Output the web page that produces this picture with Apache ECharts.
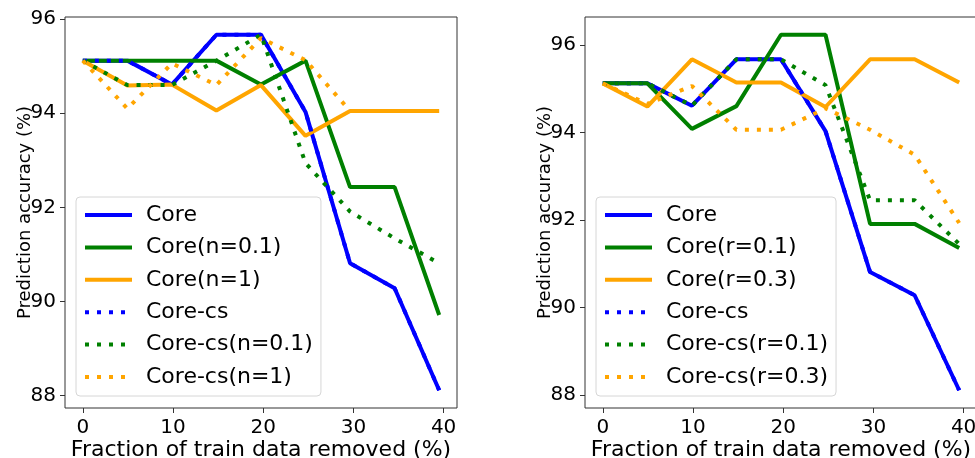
<!DOCTYPE html>
<html>
<head>
<meta charset="utf-8">
<script src="https://cdn.jsdelivr.net/npm/echarts@6/dist/echarts.min.js"></script>
<style>
  html, body { margin: 0; padding: 0; background: #fff; }
  #chart { width: 975px; height: 458px; }
</style>
</head>
<body>
<div id="chart"></div>
<script>
// fraction of train data removed (%)
const xPct = [0, 4.94, 9.88, 14.81, 19.75, 24.69, 29.63, 34.57, 39.51];
const xTicks = [0, 10, 20, 30, 40];
const yTicks = [88, 90, 92, 94, 96];

// left panel
const leftNames = ['Core', 'Core(n=0.1)', 'Core(n=1)', 'Core-cs', 'Core-cs(n=0.1)', 'Core-cs(n=1)'];
const leftCore = [95.12, 95.12, 94.61, 95.67, 95.67, 94.03, 90.81, 90.28, 88.11];
const leftCoreN01 = [95.12, 95.12, 95.12, 95.12, 94.61, 95.12, 92.43, 92.43, 89.71];
const leftCoreN1 = [95.12, 94.59, 94.61, 94.06, 94.60, 93.52, 94.05, 94.05, 94.05];
const leftCs = [95.12, 95.12, 94.61, 95.67, 95.67, 94.03, 90.81, 90.28, 88.11];
const leftCsN01 = [95.12, 94.60, 94.60, 95.12, 95.67, 92.94, 91.91, 91.34, 90.81];
const leftCsN1 = [95.12, 94.10, 95.06, 94.60, 95.60, 95.13, 94.05, 94.05, 94.05];

// right panel
const rightNames = ['Core', 'Core(r=0.1)', 'Core(r=0.3)', 'Core-cs', 'Core-cs(r=0.1)', 'Core-cs(r=0.3)'];
const rightCore = [95.12, 95.12, 94.61, 95.67, 95.67, 94.03, 90.81, 90.28, 88.11];
const rightCoreR01 = [95.12, 95.12, 94.08, 94.60, 96.23, 96.23, 91.91, 91.91, 91.36];
const rightCoreR03 = [95.12, 94.59, 95.67, 95.14, 95.14, 94.58, 95.67, 95.67, 95.14];
const rightCs = [95.12, 95.12, 94.61, 95.67, 95.67, 94.03, 90.81, 90.28, 88.11];
const rightCsR01 = [95.12, 95.12, 94.61, 95.67, 95.67, 95.08, 92.45, 92.45, 91.45];
const rightCsR03 = [95.12, 94.65, 95.06, 94.06, 94.06, 94.55, 94.06, 93.49, 91.93];

const colors = ['#0000ff', '#008000', '#ffa500'];
const FONT = 'DejaVu Sans';
const DOT = [4, 8];

function pairs(ys) {
    return ys.map((y, i) => [xPct[i], y]);
}

// matplotlib style 5% margins
function lo(v) { return v.min - (v.max - v.min) * 0.05; }
function hi(v) { return v.max + (v.max - v.min) * 0.05; }

function makeSeries(idx, names, lists) {
    return lists.map((ys, i) => ({
        name: names[i],
        type: 'line',
        xAxisIndex: idx,
        yAxisIndex: idx,
        data: pairs(ys),
        symbol: 'none',
        silent: true,
        animation: false,
        itemStyle: {color: colors[i % 3]},
        lineStyle: {
            color: colors[i % 3],
            width: 4,
            type: i < 3 ? 'solid' : DOT,
            cap: 'butt'
        }
    }));
}

function xAxis(idx) {
    return {
        type: 'value',
        gridIndex: idx,
        min: lo, max: hi,
        name: 'Fraction of train data removed (%)',
        nameLocation: 'middle',
        nameGap: 31,
        nameMoveOverlap: false,
        nameTextStyle: {fontSize: 22, color: '#000', fontFamily: FONT},
        axisLine: {show: false, onZero: false},
        splitLine: {show: false},
        axisTick: {show: true, length: 5, customValues: xTicks, lineStyle: {color: '#333'}},
        axisLabel: {fontSize: 20, color: '#000', fontFamily: FONT, margin: 10, customValues: xTicks}
    };
}

function yAxis(idx) {
    return {
        type: 'value',
        gridIndex: idx,
        min: lo, max: hi,
        name: 'Prediction accuracy (%)',
        nameLocation: 'middle',
        nameGap: 31,
        nameMoveOverlap: false,
        nameTextStyle: {fontSize: 18, color: '#000', fontFamily: FONT},
        axisLine: {show: false, onZero: false},
        splitLine: {show: false},
        axisTick: {show: true, length: 5, customValues: yTicks, lineStyle: {color: '#333'}},
        axisLabel: {fontSize: 20, color: '#000', fontFamily: FONT, margin: 9, customValues: yTicks}
    };
}

function legend(left, names) {
    return {
        orient: 'vertical',
        left: left,
        top: 197,
        padding: [6, 8, 7, 7],
        itemWidth: 47,
        itemHeight: 24,
        itemGap: 8.4,
        backgroundColor: 'rgba(255,255,255,0.8)',
        borderColor: '#d6d6d6',
        borderWidth: 1,
        borderRadius: 4,
        selectedMode: false,
        lineStyle: {width: 4},
        itemStyle: {opacity: 0},
        textStyle: {fontSize: 22, color: '#000', fontFamily: FONT, lineHeight: 24, padding: [0, 0, 0, 9]},
        data: names
    };
}

const chart = echarts.init(document.getElementById('chart'), null, {renderer: 'canvas'});
chart.setOption({
    backgroundColor: '#fff',
    animation: false,
    grid: [
        {left: 65, top: 17, width: 392, height: 391, outerBoundsMode: 'none', show: true, borderColor: '#333', borderWidth: 1},
        {left: 585, top: 17, width: 392, height: 391, outerBoundsMode: 'none', show: true, borderColor: '#333', borderWidth: 1}
    ],
    xAxis: [xAxis(0), xAxis(1)],
    yAxis: [yAxis(0), yAxis(1)],
    legend: [legend(76, leftNames), legend(596, rightNames)],
    series: [].concat(
        makeSeries(0, leftNames, [leftCore, leftCoreN01, leftCoreN1, leftCs, leftCsN01, leftCsN1]),
        makeSeries(1, rightNames, [rightCore, rightCoreR01, rightCoreR03, rightCs, rightCsR01, rightCsR03])
    )
});
</script>
</body>
</html>
